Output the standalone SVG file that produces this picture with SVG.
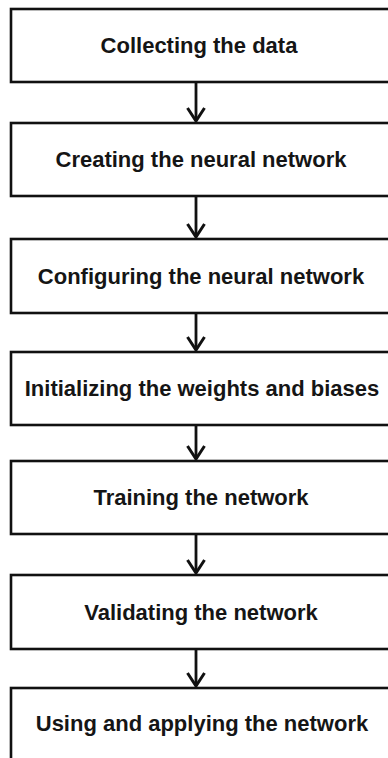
<svg xmlns="http://www.w3.org/2000/svg" width="388" height="758" viewBox="0 0 388 758">
  <style>
    .box { fill: #ffffff; stroke: #111111; stroke-width: 2.6; }
    .label { font-family: "Liberation Sans", Arial, sans-serif; font-weight: bold; font-size: 22px; fill: #151515; text-anchor: middle; }
    .flow { stroke: #111111; stroke-width: 2.8; fill: none; }
  </style>
  <defs>
    <marker id="head" viewBox="0 0 16 20" markerWidth="16" markerHeight="20" refX="14" refY="10" orient="auto" markerUnits="userSpaceOnUse">
      <path d="M1,1.5 L14,10 L1,18.5" fill="none" stroke="#111111" stroke-width="3"/>
    </marker>
  </defs>
  <rect x="0" y="0" width="388" height="758" fill="#ffffff"/>

  <g id="connectors">
    <line class="flow" x1="196" y1="82" x2="196" y2="121" marker-end="url(#head)"/>
    <line class="flow" x1="196" y1="196" x2="196" y2="237" marker-end="url(#head)"/>
    <line class="flow" x1="196" y1="313" x2="196" y2="350" marker-end="url(#head)"/>
    <line class="flow" x1="196" y1="425" x2="196" y2="459" marker-end="url(#head)"/>
    <line class="flow" x1="196" y1="534" x2="196" y2="573" marker-end="url(#head)"/>
    <line class="flow" x1="196" y1="649" x2="196" y2="686" marker-end="url(#head)"/>
  </g>

  <g id="collect">
    <rect class="box" x="11" y="9" width="400" height="73"/>
    <text class="label" x="199" y="53.3">Collecting the data</text>
  </g>
  <g id="create">
    <rect class="box" x="11" y="123" width="400" height="73"/>
    <text class="label" x="201" y="167.3">Creating the neural network</text>
  </g>
  <g id="configure">
    <rect class="box" x="11" y="239" width="400" height="74"/>
    <text class="label" x="201" y="283.7">Configuring the neural network</text>
  </g>
  <g id="initialize">
    <rect class="box" x="11" y="352" width="400" height="73"/>
    <text class="label" x="202" y="396.3">Initializing the weights and biases</text>
  </g>
  <g id="train">
    <rect class="box" x="11" y="461" width="400" height="73"/>
    <text class="label" x="201" y="505.3">Training the network</text>
  </g>
  <g id="validate">
    <rect class="box" x="11" y="575" width="400" height="74"/>
    <text class="label" x="201" y="619.7">Validating the network</text>
  </g>
  <g id="apply">
    <rect class="box" x="11" y="688" width="400" height="90"/>
    <text class="label" x="202" y="731">Using and applying the network</text>
  </g>
</svg>
